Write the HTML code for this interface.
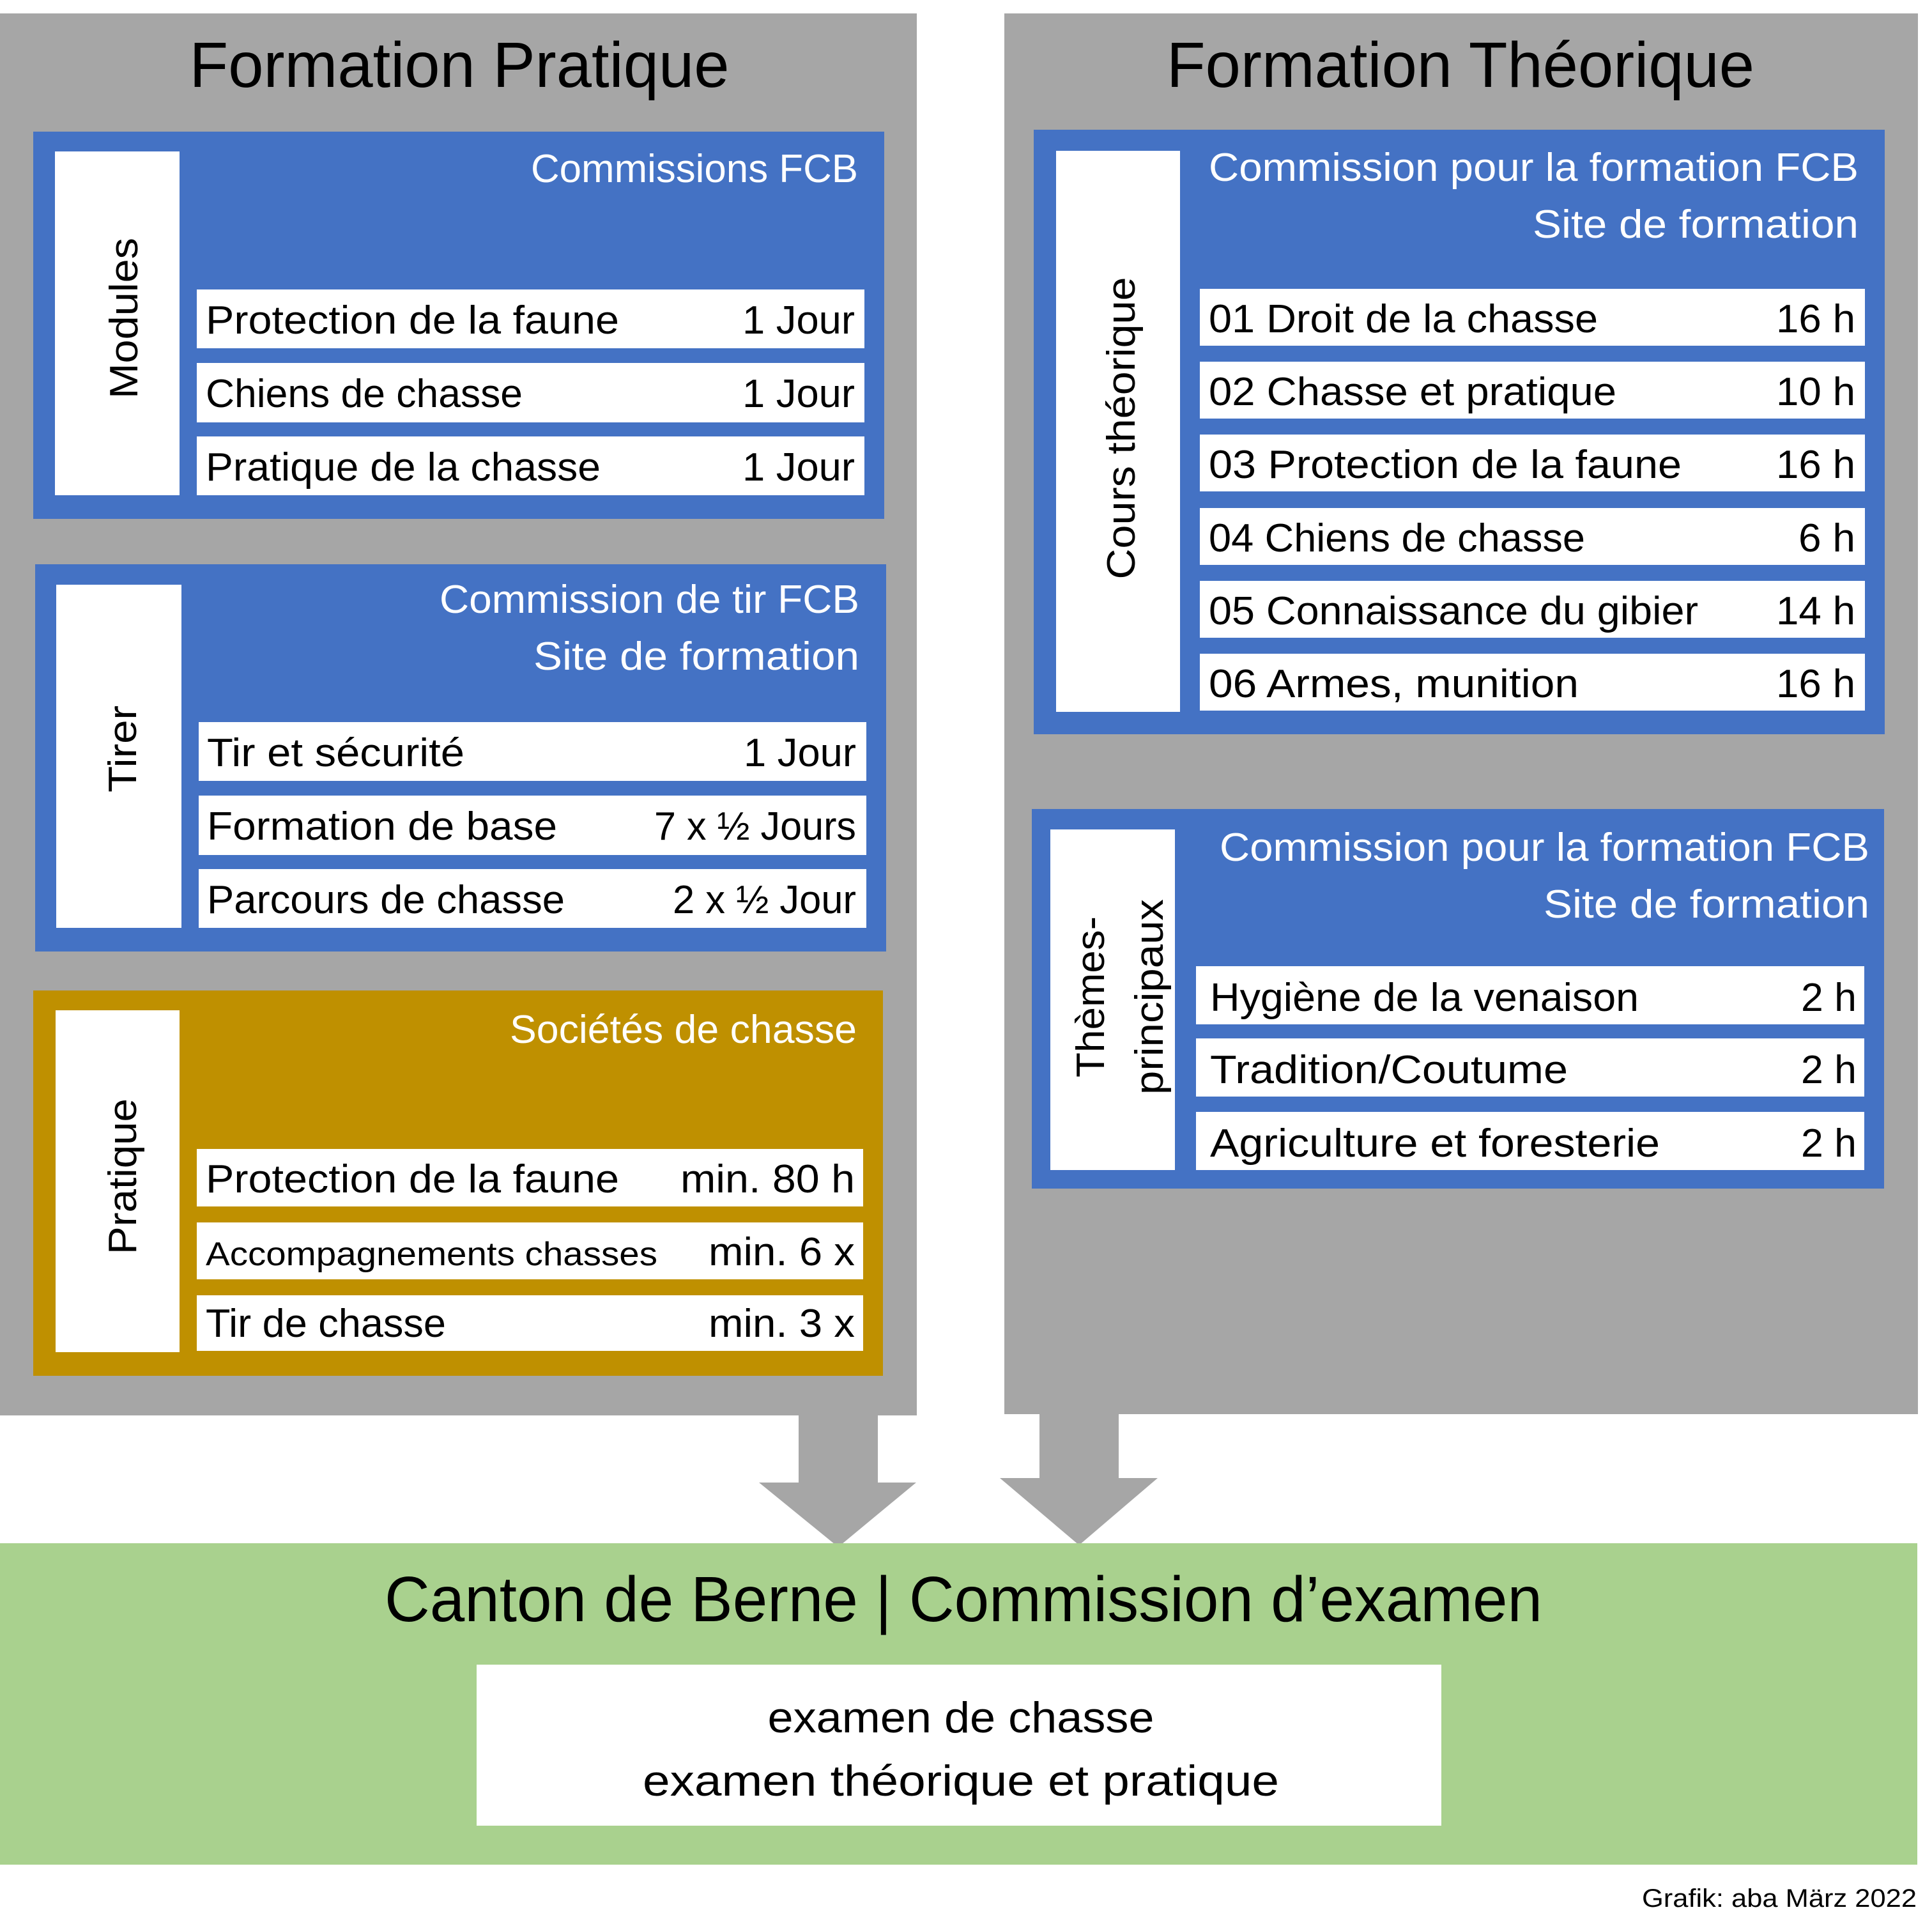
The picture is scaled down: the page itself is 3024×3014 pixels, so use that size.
<!DOCTYPE html>
<html><head><meta charset="utf-8"><style>html,body{margin:0;padding:0;background:#fff}svg{display:block}</style></head>
<body>
<svg width="3024" height="3014" viewBox="0 0 3024 3014" xmlns="http://www.w3.org/2000/svg" font-family="Liberation Sans, DejaVu Sans, sans-serif">
<rect x="0" y="0" width="3024" height="3014" fill="#fff"/>
<!-- gray panels -->
<rect x="0" y="21" width="1435" height="2194" fill="#A6A6A6"/>
<rect x="1572" y="21" width="1430" height="2192" fill="#A6A6A6"/>
<!-- arrows -->
<polygon points="1250,2213 1374,2213 1374,2320 1434,2320 1312,2421 1188,2320 1250,2320" fill="#A6A6A6"/>
<polygon points="1627,2211 1751,2211 1751,2313 1812,2313 1689,2418 1565,2313 1627,2313" fill="#A6A6A6"/>
<!-- green -->
<rect x="0" y="2415" width="3001" height="503" fill="#A9D18E"/>
<rect x="746" y="2605" width="1510" height="252" fill="#fff"/>

<g font-size="100" fill="#000" text-anchor="middle">
<text x="719" y="136" textLength="845" lengthAdjust="spacingAndGlyphs">Formation Pratique</text>
<text x="2286" y="136" textLength="920" lengthAdjust="spacingAndGlyphs">Formation Théorique</text>
<text x="1508" y="2537" textLength="1812" lengthAdjust="spacingAndGlyphs">Canton de Berne | Commission d’examen</text>
</g>
<g font-size="68" fill="#000" text-anchor="middle">
<text x="1504" y="2711" textLength="605" lengthAdjust="spacingAndGlyphs">examen de chasse</text>
<text x="1504" y="2810" textLength="996" lengthAdjust="spacingAndGlyphs">examen théorique et pratique</text>
</g>
<text x="3000" y="2984" font-size="40" fill="#000" text-anchor="end" textLength="430" lengthAdjust="spacingAndGlyphs">Grafik: aba März 2022</text>

<!-- Modules box -->
<rect x="52" y="206" width="1332" height="606" fill="#4472C4"/>
<rect x="86" y="237" width="195" height="538" fill="#fff"/>
<rect x="308" y="453" width="1045" height="92" fill="#fff"/>
<rect x="308" y="568" width="1045" height="93" fill="#fff"/>
<rect x="308" y="683" width="1045" height="92" fill="#fff"/>
<!-- Tirer box -->
<rect x="55" y="883" width="1332" height="606" fill="#4472C4"/>
<rect x="88" y="915" width="196" height="537" fill="#fff"/>
<rect x="311" y="1130" width="1045" height="92" fill="#fff"/>
<rect x="311" y="1245" width="1045" height="93" fill="#fff"/>
<rect x="311" y="1360" width="1045" height="92" fill="#fff"/>
<!-- Pratique box -->
<rect x="52" y="1550" width="1330" height="603" fill="#BF9000"/>
<rect x="87" y="1581" width="194" height="535" fill="#fff"/>
<rect x="308" y="1798" width="1043" height="90" fill="#fff"/>
<rect x="308" y="1913" width="1043" height="89" fill="#fff"/>
<rect x="308" y="2027" width="1043" height="87" fill="#fff"/>
<!-- Theorique box -->
<rect x="1618" y="203" width="1332" height="946" fill="#4472C4"/>
<rect x="1653" y="236" width="194" height="878" fill="#fff"/>
<rect x="1878" y="452" width="1041" height="89" fill="#fff"/>
<rect x="1878" y="566" width="1041" height="89" fill="#fff"/>
<rect x="1878" y="680" width="1041" height="89" fill="#fff"/>
<rect x="1878" y="795" width="1041" height="89" fill="#fff"/>
<rect x="1878" y="909" width="1041" height="89" fill="#fff"/>
<rect x="1878" y="1023" width="1041" height="89" fill="#fff"/>
<!-- Themes box -->
<rect x="1615" y="1266" width="1334" height="594" fill="#4472C4"/>
<rect x="1644" y="1298" width="195" height="533" fill="#fff"/>
<rect x="1872" y="1512" width="1046" height="91" fill="#fff"/>
<rect x="1872" y="1625" width="1046" height="91" fill="#fff"/>
<rect x="1872" y="1740" width="1046" height="91" fill="#fff"/>

<!-- headers -->
<g font-size="62" fill="#fff" text-anchor="end">
<text x="1343" y="285" textLength="512" lengthAdjust="spacingAndGlyphs">Commissions FCB</text>
<text x="1345" y="959" textLength="657" lengthAdjust="spacingAndGlyphs">Commission de tir FCB</text>
<text x="1345" y="1048" textLength="510" lengthAdjust="spacingAndGlyphs">Site de formation</text>
<text x="1341" y="1632" textLength="543" lengthAdjust="spacingAndGlyphs">Sociétés de chasse</text>
<text x="2909" y="283" textLength="1017" lengthAdjust="spacingAndGlyphs">Commission pour la formation FCB</text>
<text x="2909" y="372" textLength="510" lengthAdjust="spacingAndGlyphs">Site de formation</text>
<text x="2926" y="1347" textLength="1017" lengthAdjust="spacingAndGlyphs">Commission pour la formation FCB</text>
<text x="2926" y="1436" textLength="510" lengthAdjust="spacingAndGlyphs">Site de formation</text>
</g>

<!-- row texts left -->
<g font-size="62" fill="#000">
<text x="322" y="522" textLength="647" lengthAdjust="spacingAndGlyphs">Protection de la faune</text>
<text x="322" y="637" textLength="496" lengthAdjust="spacingAndGlyphs">Chiens de chasse</text>
<text x="322" y="752" textLength="618" lengthAdjust="spacingAndGlyphs">Pratique de la chasse</text>
<text x="324" y="1199" textLength="403" lengthAdjust="spacingAndGlyphs">Tir et sécurité</text>
<text x="324" y="1314" textLength="548" lengthAdjust="spacingAndGlyphs">Formation de base</text>
<text x="324" y="1429" textLength="560" lengthAdjust="spacingAndGlyphs">Parcours de chasse</text>
<text x="322" y="1866" textLength="647" lengthAdjust="spacingAndGlyphs">Protection de la faune</text>
<text x="322" y="1980" font-size="52" textLength="707" lengthAdjust="spacingAndGlyphs">Accompagnements chasses</text>
<text x="322" y="2092" textLength="376" lengthAdjust="spacingAndGlyphs">Tir de chasse</text>
<text x="1892" y="520" textLength="609" lengthAdjust="spacingAndGlyphs">01 Droit de la chasse</text>
<text x="1892" y="634" textLength="638" lengthAdjust="spacingAndGlyphs">02 Chasse et pratique</text>
<text x="1892" y="748" textLength="740" lengthAdjust="spacingAndGlyphs">03 Protection de la faune</text>
<text x="1892" y="863" textLength="589" lengthAdjust="spacingAndGlyphs">04 Chiens de chasse</text>
<text x="1892" y="977" textLength="766" lengthAdjust="spacingAndGlyphs">05 Connaissance du gibier</text>
<text x="1892" y="1091" textLength="579" lengthAdjust="spacingAndGlyphs">06 Armes, munition</text>
<text x="1894" y="1582" textLength="671" lengthAdjust="spacingAndGlyphs">Hygiène de la venaison</text>
<text x="1894" y="1695" textLength="560" lengthAdjust="spacingAndGlyphs">Tradition/Coutume</text>
<text x="1894" y="1810" textLength="704" lengthAdjust="spacingAndGlyphs">Agriculture et foresterie</text>
</g>
<!-- row texts right -->
<g font-size="62" fill="#000" text-anchor="end">
<text x="1338" y="522" textLength="176" lengthAdjust="spacingAndGlyphs">1 Jour</text>
<text x="1338" y="637" textLength="176" lengthAdjust="spacingAndGlyphs">1 Jour</text>
<text x="1338" y="752" textLength="176" lengthAdjust="spacingAndGlyphs">1 Jour</text>
<text x="1340" y="1199" textLength="176" lengthAdjust="spacingAndGlyphs">1 Jour</text>
<text x="1340" y="1314" textLength="316" lengthAdjust="spacingAndGlyphs">7 x ½ Jours</text>
<text x="1340" y="1429" textLength="287" lengthAdjust="spacingAndGlyphs">2 x ½ Jour</text>
<text x="1338" y="1866" textLength="273" lengthAdjust="spacingAndGlyphs">min. 80 h</text>
<text x="1338" y="1980" textLength="229" lengthAdjust="spacingAndGlyphs">min. 6 x</text>
<text x="1338" y="2092" textLength="229" lengthAdjust="spacingAndGlyphs">min. 3 x</text>
<text x="2904" y="520" textLength="124" lengthAdjust="spacingAndGlyphs">16 h</text>
<text x="2904" y="634" textLength="124" lengthAdjust="spacingAndGlyphs">10 h</text>
<text x="2904" y="748" textLength="124" lengthAdjust="spacingAndGlyphs">16 h</text>
<text x="2904" y="863" textLength="89" lengthAdjust="spacingAndGlyphs">6 h</text>
<text x="2904" y="977" textLength="124" lengthAdjust="spacingAndGlyphs">14 h</text>
<text x="2904" y="1091" textLength="124" lengthAdjust="spacingAndGlyphs">16 h</text>
<text x="2906" y="1582" textLength="87" lengthAdjust="spacingAndGlyphs">2 h</text>
<text x="2906" y="1695" textLength="87" lengthAdjust="spacingAndGlyphs">2 h</text>
<text x="2906" y="1810" textLength="87" lengthAdjust="spacingAndGlyphs">2 h</text>
</g>

<!-- vertical labels -->
<g font-size="62" fill="#000" text-anchor="middle">
<text transform="translate(215,498) rotate(-90)" textLength="252" lengthAdjust="spacingAndGlyphs">Modules</text>
<text transform="translate(213,1172) rotate(-90)" textLength="136" lengthAdjust="spacingAndGlyphs">Tirer</text>
<text transform="translate(213,1841) rotate(-90)" textLength="244" lengthAdjust="spacingAndGlyphs">Pratique</text>
<text transform="translate(1776,670) rotate(-90)" textLength="473" lengthAdjust="spacingAndGlyphs">Cours théorique</text>
<text transform="translate(1728,1560) rotate(-90)" textLength="252" lengthAdjust="spacingAndGlyphs">Thèmes-</text>
<text transform="translate(1820,1560) rotate(-90)" textLength="306" lengthAdjust="spacingAndGlyphs">principaux</text>
</g>
</svg>
</body></html>
